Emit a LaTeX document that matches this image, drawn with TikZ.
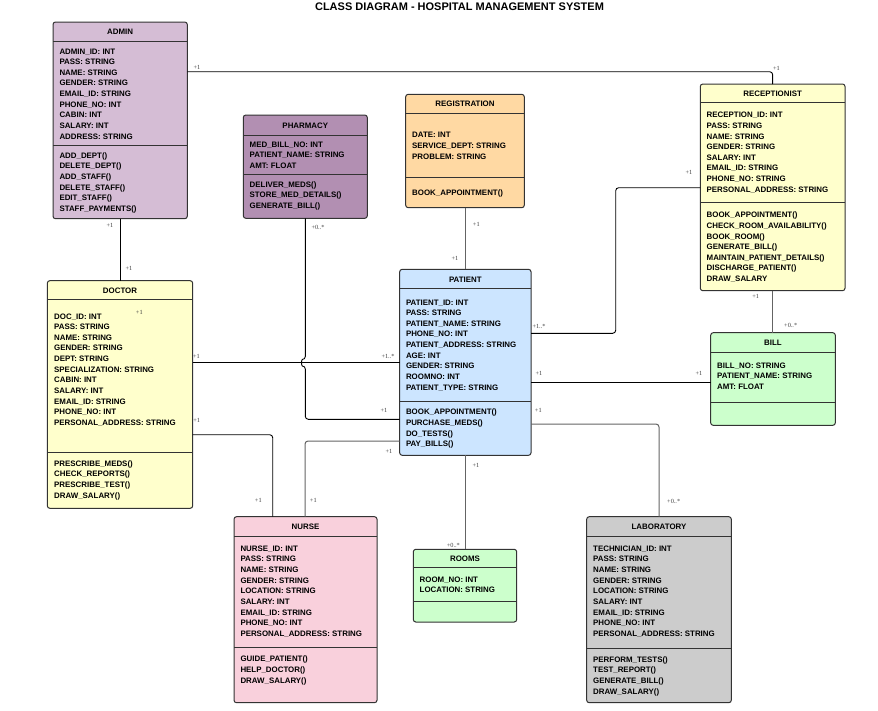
\documentclass[tikz,border=0pt]{standalone}
\usepackage{fontspec}
\setmainfont{Liberation Sans}
\newfontfamily\lblfont{Liberation Serif}
\usetikzlibrary{calc}
\definecolor{cadmin}{RGB}{213,189,213}
\definecolor{cpharm}{RGB}{178,143,178}
\definecolor{creg}{RGB}{255,217,163}
\definecolor{cyel}{RGB}{255,255,204}
\definecolor{cpat}{RGB}{204,229,255}
\definecolor{cgreen}{RGB}{204,255,204}
\definecolor{cnurse}{RGB}{249,208,220}
\definecolor{clab}{RGB}{204,204,204}
\definecolor{cborder}{RGB}{51,51,51}
\definecolor{cgrayline}{RGB}{100,100,100}
\tikzset{
  classbox/.style={draw=cborder, line width=1pt, rounded corners=2.5pt, inner sep=0pt, outer sep=0pt},
  sepline/.style={draw=cborder, line width=1pt},
  hdrtxt/.style={anchor=base, inner sep=0pt, font=\bfseries\fontsize{7.9}{10}\selectfont},
  txt/.style={anchor=base west, inner sep=0pt, font=\bfseries\fontsize{7.9}{10}\selectfont},
  lbl/.style={inner sep=0pt, text=black!75, font=\lblfont\fontsize{6.3}{7}\selectfont},
  conn/.style={draw=black, line width=0.9pt, rounded corners=3pt},
  conng/.style={draw=cgrayline, line width=1pt, rounded corners=3pt},
}
\newcommand{\umlclass}[9]{%
  \node[classbox, fill=#2, minimum width={#5pt-#3pt}, minimum height={#6pt-#4pt}] (#1) at ({(#3+#5)/2},{(#4+#6)/2}) {};
  \draw[sepline] (#1.north west |- 0,#7) -- (#1.north east |- 0,#7);
  \draw[sepline] (#1.north west |- 0,#8) -- (#1.north east |- 0,#8);
  \node[hdrtxt] (#1-title) at ({(#3+#5)/2},{(#4+#7)/2+3}) {#9};
}
\newcommand{\textlines}[4]{%
  \foreach \myline [count=\i] in {#4} \node[txt] (#1-\i) at (#2,{#3+(\i-1)*10.65}) {\myline};
}
\begin{document}
\begin{tikzpicture}[x=1pt,y=-1pt]
\useasboundingbox[fill=white] (0,0) rectangle (878,710);
\node[anchor=base, inner sep=0pt, font=\bfseries\fontsize{11}{12}\selectfont] (title) at (459.5,10.4) {CLASS DIAGRAM - HOSPITAL MANAGEMENT SYSTEM};

% classes
\umlclass{admin}{cadmin}{53}{22}{187.3}{218.7}{41.7}{145.7}{ADMIN}
\textlines{admina}{59.3}{54}{ADMIN\_ID: INT,PASS: STRING,NAME: STRING,GENDER: STRING,EMAIL\_ID: STRING,PHONE\_NO: INT,CABIN: INT,SALARY: INT,ADDRESS: STRING}
\textlines{adminm}{59.3}{158.3}{ADD\_DEPT(),DELETE\_DEPT(),ADD\_STAFF(),DELETE\_STAFF(),EDIT\_STAFF(),STAFF\_PAYMENTS()}

\umlclass{pharmacy}{cpharm}{243.3}{115}{367.3}{218.3}{135}{174}{PHARMACY}
\textlines{pharmacya}{249.5}{147.3}{MED\_BILL\_NO: INT,PATIENT\_NAME: STRING,AMT: FLOAT}
\textlines{pharmacym}{249.5}{187.3}{DELIVER\_MEDS(),STORE\_MED\_DETAILS(),GENERATE\_BILL()}

\umlclass{registration}{creg}{405.7}{94.3}{524.3}{207.7}{113.3}{177.7}{REGISTRATION}
\textlines{registrationa}{412}{137.7}{DATE: INT,SERVICE\_DEPT: STRING,PROBLEM: STRING}
\textlines{registrationm}{412}{195.7}{BOOK\_APPOINTMENT()}

\umlclass{recept}{cyel}{700.3}{84}{845}{290.7}{102.7}{202.3}{RECEPTIONIST}
\textlines{recepta}{706.5}{117.7}{RECEPTION\_ID: INT,PASS: STRING,NAME: STRING,GENDER: STRING,SALARY: INT,EMAIL\_ID: STRING,PHONE\_NO: STRING,PERSONAL\_ADDRESS: STRING}
\textlines{receptm}{706.5}{217.7}{BOOK\_APPOINTMENT(),CHECK\_ROOM\_AVAILABILITY(),BOOK\_ROOM(),GENERATE\_BILL(),MAINTAIN\_PATIENT\_DETAILS(),DISCHARGE\_PATIENT(),DRAW\_SALARY}

\umlclass{doctor}{cyel}{47.3}{280.7}{192.7}{508.3}{299.7}{452}{DOCTOR}
\textlines{doctora}{54}{319}{DOC\_ID: INT,PASS: STRING,NAME: STRING,GENDER: STRING,DEPT: STRING,SPECIALIZATION: STRING,CABIN: INT,SALARY: INT,EMAIL\_ID: STRING,PHONE\_NO: INT,PERSONAL\_ADDRESS: STRING}
\textlines{doctorm}{54}{466.3}{PRESCRIBE\_MEDS(),CHECK\_REPORTS(),PRESCRIBE\_TEST(),DRAW\_SALARY()}

\umlclass{patient}{cpat}{399.7}{269.3}{531}{455.3}{288.7}{401}{PATIENT}
\textlines{patienta}{405.8}{305}{PATIENT\_ID: INT,PASS: STRING,PATIENT\_NAME: STRING,PHONE\_NO: INT,PATIENT\_ADDRESS: STRING,AGE: INT,GENDER: STRING,ROOMNO: INT,PATIENT\_TYPE: STRING}
\textlines{patientm}{405.8}{414.7}{BOOK\_APPOINTMENT(),PURCHASE\_MEDS(),DO\_TESTS(),PAY\_BILLS()}

\umlclass{bill}{cgreen}{710.7}{332.7}{835.3}{425.3}{352}{402}{BILL}
\textlines{billa}{717}{368.3}{BILL\_NO: STRING,PATIENT\_NAME: STRING,AMT: FLOAT}

\umlclass{nurse}{cnurse}{234}{516.7}{377}{702.7}{536.3}{647.7}{NURSE}
\textlines{nursea}{240.3}{551.3}{NURSE\_ID: INT,PASS: STRING,NAME: STRING,GENDER: STRING,LOCATION: STRING,SALARY: INT,EMAIL\_ID: STRING,PHONE\_NO: INT,PERSONAL\_ADDRESS: STRING}
\textlines{nursem}{240.3}{661.7}{GUIDE\_PATIENT(),HELP\_DOCTOR(),DRAW\_SALARY()}

\umlclass{rooms}{cgreen}{413.3}{549.3}{516.7}{622}{567.7}{601.7}{ROOMS}
\textlines{roomsa}{419.5}{582}{ROOM\_NO: INT,LOCATION: STRING}

\umlclass{lab}{clab}{586.7}{516.7}{731.3}{702.7}{536.3}{648}{LABORATORY}
\textlines{laba}{593}{551.3}{TECHNICIAN\_ID: INT,PASS: STRING,NAME: STRING,GENDER: STRING,LOCATION: STRING,SALARY: INT,EMAIL\_ID: STRING,PHONE\_NO: INT,PERSONAL\_ADDRESS: STRING}
\textlines{labm}{593}{662.3}{PERFORM\_TESTS(),TEST\_REPORT(),GENERATE\_BILL(),DRAW\_SALARY()}

% connectors
\draw[conn] (admin.east |- 0,71.7) -- (recept.north |- 0,71.7) -- (recept.north);
\draw[conn] (admin.south) -- (admin.south |- doctor.north);
\draw[conn] (doctor.east |- 0,362.7) -- (patient.west |- 0,362.7);
\draw[conn] (pharmacy.south) -- (pharmacy.south |- 0,359.5) .. controls +(-4,0) and +(-4,0) .. (pharmacy.south |- 0,366) -- (pharmacy.south |- 0,419.3) -- (patient.west |- 0,419.3);
\draw[conn] (doctor.east |- 0,434.7) -| (nurse.north west -| 272.7,0);
\draw[conng] (patient.west |- 0,441) -| (nurse.north west -| 305,0);
\draw[conng] (registration.south) -- (registration.south |- patient.north);
\draw[conn] (patient.east |- 0,333.3) -| (615.7,187.7) -- (recept.west |- 0,187.7);
\draw[conng] (recept.south) -- (recept.south |- bill.north);
\draw[conn] (patient.east |- 0,382) -- (bill.west |- 0,382);
\draw[conng] (patient.east |- 0,424) -| (lab.north);
\draw[conng] (patient.south) -- (patient.south |- rooms.north);

% multiplicity labels
\node[lbl] (l1) at (197,67) {+1};
\node[lbl] (l2) at (776.5,68) {+1};
\node[lbl] (l3) at (110,225) {+1};
\node[lbl] (l4) at (129,268) {+1};
\node[lbl] (l5) at (139.3,312.3) {+1};
\node[lbl] (l6) at (196.5,356) {+1};
\node[lbl] (l7) at (388,356) {+1..*};
\node[lbl] (l8) at (318,227.5) {+0..*};
\node[lbl] (l9) at (384,410.3) {+1};
\node[lbl] (l10) at (196.7,420.7) {+1};
\node[lbl] (l11) at (258.3,500.7) {+1};
\node[lbl] (l12) at (389,451) {+1};
\node[lbl] (l13) at (313.3,500.7) {+1};
\node[lbl] (l14) at (476.3,224) {+1};
\node[lbl] (l15) at (455,258) {+1};
\node[lbl] (l16) at (539,326) {+1..*};
\node[lbl] (l17) at (689,172.3) {+1};
\node[lbl] (l18) at (755.7,296.7) {+1};
\node[lbl] (l19) at (790.7,325.3) {+0..*};
\node[lbl] (l20) at (539,373.3) {+1};
\node[lbl] (l21) at (699,373.3) {+1};
\node[lbl] (l22) at (538.3,410.3) {+1};
\node[lbl] (l23) at (673.7,501.7) {+0..*};
\node[lbl] (l24) at (476,465.7) {+1};
\node[lbl] (l25) at (453.3,545) {+0..*};
\end{tikzpicture}
\end{document}
